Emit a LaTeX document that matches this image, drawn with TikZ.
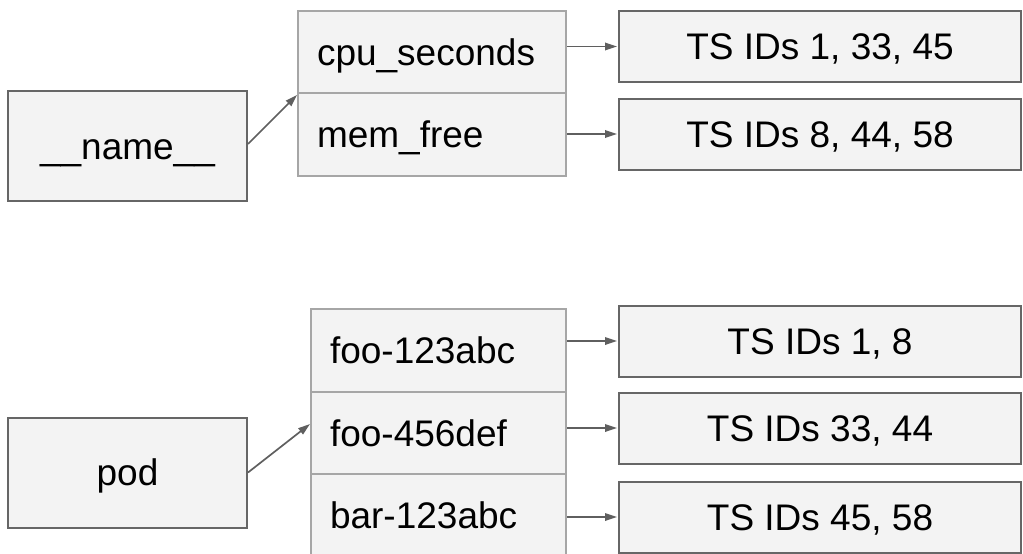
\documentclass[tikz,border=0pt]{standalone}
\usepackage{fontspec}
\setmainfont{Liberation Sans}
\usetikzlibrary{arrows.meta,positioning}
\definecolor{boxfill}{HTML}{F3F3F3}
\definecolor{darkedge}{HTML}{666666}
\definecolor{lightedge}{HTML}{A6A6A6}
\definecolor{arrowgray}{HTML}{5F5F5F}
\begin{document}
\begin{tikzpicture}[x=1pt,y=-1pt,
  every node/.style={font=\fontsize{37}{44}\selectfont, text height=26.5pt, text depth=0pt, inner sep=0pt},
  keybox/.style={draw=darkedge, line width=2pt, fill=boxfill, minimum width=239pt, minimum height=110pt},
  valcell/.style={draw=lightedge, line width=2pt, fill=boxfill, minimum height=83pt,
    text width=230pt, align=left, inner xsep=19pt},
  idbox/.style={draw=darkedge, line width=2pt, fill=boxfill, minimum width=402pt, minimum height=71pt},
  link/.style={draw=arrowgray, line width=1.7pt, -{Triangle[length=12pt,width=7.5pt]}}
]
\useasboundingbox (0,0) rectangle (1023,554);
\clip (0,0) rectangle (1023,554);

% metric name index
\node[keybox] (name) at (127.5,146) {\_\_name\_\_};
\node[valcell] (cpu) at (432,52.5) {cpu\_seconds};
\node[valcell] (mem) at (432,134.5) {mem\_free};
\node[idbox] (ids1) at (820,46.5) {TS IDs 1, 33, 45};
\node[idbox] (ids2) at (820,134) {TS IDs 8, 44, 58};

% pod label index
\node[keybox] (pod) at (127.5,472.5) {pod};
\node[valcell, text width=217pt] (foo1) at (438.5,350.5) {foo-123abc};
\node[valcell, text width=217pt] (foo2) at (438.5,433) {foo-456def};
\node[valcell, text width=217pt] (bar) at (438.5,515.5) {bar-123abc};
\node[idbox] (ids3) at (820,341) {TS IDs 1, 8};
\node[idbox] (ids4) at (820,428) {TS IDs 33, 44};
\node[idbox] (ids5) at (820,517) {TS IDs 45, 58};

% connectors
\draw[link] ([yshift=2pt]name.east) -- (cpu.south west);
\draw[link, shorten >=1pt] (cpu.east |- ids1.west) -- (ids1.west);
\draw[link, shorten >=1pt] (mem.east |- ids2.west) -- (ids2.west);

\draw[link] (pod.east) -- ([yshift=9pt]foo2.west);
\draw[link, shorten >=1pt] (foo1.east |- ids3.west) -- (ids3.west);
\draw[link, shorten >=1pt] (foo2.east |- ids4.west) -- (ids4.west);
\draw[link, shorten >=1pt] (bar.east |- ids5.west) -- (ids5.west);
\end{tikzpicture}
\end{document}
